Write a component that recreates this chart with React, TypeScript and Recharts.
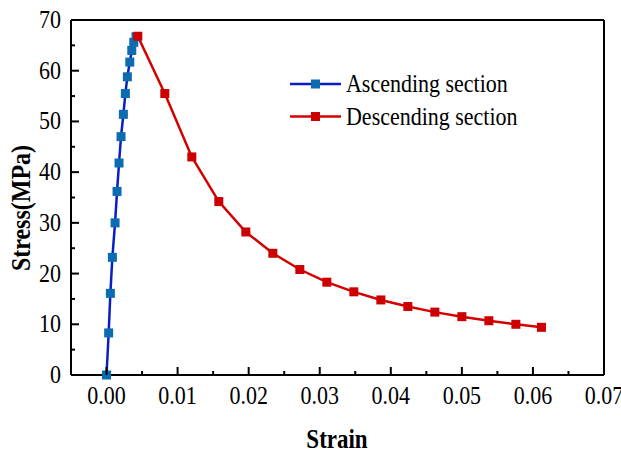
import React from 'react';
import {
  LineChart,
  Line,
  XAxis,
  YAxis,
  ReferenceLine,
  Label,
  Customized,
} from 'recharts';

const ascStrain = [0, 0.0003, 0.00054, 0.00082, 0.0012, 0.00148, 0.00176, 0.00204, 0.00237, 0.00265, 0.00293, 0.00327, 0.00355, 0.00383, 0.00415];
const ascStress = [0, 8.3, 16.1, 23.2, 30.0, 36.2, 41.8, 47.0, 51.4, 55.5, 58.8, 61.7, 64.0, 65.6, 66.7];

const descStrain = [0.0044, 0.0082, 0.012, 0.0158, 0.0196, 0.0234, 0.0272, 0.031, 0.0348, 0.0386, 0.0424, 0.0462, 0.05, 0.0538, 0.0576, 0.0612];
const descStress = [66.8, 55.5, 43.0, 34.2, 28.2, 24.0, 20.8, 18.3, 16.4, 14.8, 13.5, 12.4, 11.5, 10.7, 10.0, 9.4];

const xTicks = [0, 0.005, 0.01, 0.015, 0.02, 0.025, 0.03, 0.035, 0.04, 0.045, 0.05, 0.055, 0.06, 0.065, 0.07];
const xTickLabels = ['0.00', '', '0.01', '', '0.02', '', '0.03', '', '0.04', '', '0.05', '', '0.06', '', '0.07'];
const yTicks = [0, 5, 10, 15, 20, 25, 30, 35, 40, 45, 50, 55, 60, 65, 70];
const yTickLabels = ['0', '', '10', '', '20', '', '30', '', '40', '', '50', '', '60', '', '70'];

const ascData = ascStrain.map((s, i) => ({ strain: s, stress: ascStress[i] }));
const descData = descStrain.map((s, i) => ({ strain: s, stress: descStress[i] }));

const FONT = '"Liberation Serif", "Times New Roman", serif';
const ASC_LINE = '#0a1ec8';
const ASC_MARK = '#0b6cb0';
const DESC_LINE = '#d40000';
const DESC_MARK = '#cc0000';
// the reference text looks a bit taller than wide
const STRETCH = 1.15;

const TallText = ({ x, y, anchor = 'start', size, bold = false, rotate = 0, children }: any) => (
  <text
    transform={`translate(${x} ${y}) rotate(${rotate}) scale(1 ${STRETCH})`}
    textAnchor={anchor}
    fontFamily={FONT}
    fontSize={size}
    fontWeight={bold ? 'bold' : 'normal'}
    fill="#000"
  >
    {children}
  </text>
);

const squareDot = (fill: string) => (props: any) => {
  const { cx, cy, index } = props;
  if (cx == null || cy == null) return <g key={index} />;
  return <rect key={index} x={cx - 4.5} y={cy - 4.5} width={9} height={9} fill={fill} />;
};

const XTick = (props: any) => {
  const { x, y, index } = props;
  const major = index % 2 === 0;
  return (
    <g>
      <line x1={x} y1={y} x2={x} y2={y - (major ? 8 : 4)} stroke="#000" strokeWidth={2} />
      {major && (
        <TallText x={x} y={y + 29} anchor="middle" size={22}>
          {xTickLabels[index]}
        </TallText>
      )}
    </g>
  );
};

const YTick = (props: any) => {
  const { x, y, index } = props;
  const major = index % 2 === 0;
  return (
    <g>
      <line x1={x} y1={y} x2={x + (major ? 8 : 4)} y2={y} stroke="#000" strokeWidth={2} />
      {major && (
        <TallText x={x - 10} y={y + 8} anchor="end" size={22}>
          {yTickLabels[index]}
        </TallText>
      )}
    </g>
  );
};

const LegendBox = () => (
  <g>
    <line x1={290} y1={84} x2={341} y2={84} stroke={ASC_LINE} strokeWidth={2.5} />
    <rect x={311} y={79.5} width={9} height={9} fill={ASC_MARK} />
    <TallText x={346} y={92} size={22}>Ascending section</TallText>
    <line x1={290} y1={116.5} x2={341} y2={116.5} stroke={DESC_LINE} strokeWidth={2.5} />
    <rect x={311} y={112} width={9} height={9} fill={DESC_MARK} />
    <TallText x={346} y={124.5} size={22}>Descending section</TallText>
  </g>
);

export default function App() {
  return (
    <div style={{ position: 'absolute', left: 0, top: 0, background: '#fff' }}>
      <LineChart width={621} height={454} margin={{ top: 20, right: 17, left: 0, bottom: 0 }}>
        <XAxis
          dataKey="strain"
          type="number"
          domain={[-0.005, 0.07]}
          ticks={xTicks}
          interval={0}
          height={79}
          tickSize={0}
          tickMargin={0}
          tickLine={false}
          tick={<XTick />}
          axisLine={{ stroke: '#000', strokeWidth: 2 }}
        >
          <Label
            content={() => (
              <TallText x={337} y={448} anchor="middle" size={23} bold>
                Strain
              </TallText>
            )}
          />
        </XAxis>
        <YAxis
          dataKey="stress"
          type="number"
          domain={[0, 70]}
          ticks={yTicks}
          interval={0}
          width={71}
          tickSize={0}
          tickMargin={0}
          tickLine={false}
          tick={<YTick />}
          axisLine={{ stroke: '#000', strokeWidth: 2 }}
        >
          <Label
            content={() => (
              <TallText x={30} y={208} anchor="middle" size={24} bold rotate={-90}>
                Stress(MPa)
              </TallText>
            )}
          />
        </YAxis>
        <ReferenceLine y={70} stroke="#000" strokeWidth={2} />
        <ReferenceLine x={0.07} stroke="#000" strokeWidth={2} />
        <Line
          data={ascData}
          dataKey="stress"
          stroke={ASC_LINE}
          strokeWidth={2.5}
          dot={squareDot(ASC_MARK)}
          activeDot={false}
          isAnimationActive={false}
        />
        <Line
          data={descData}
          dataKey="stress"
          stroke={DESC_LINE}
          strokeWidth={2.5}
          dot={squareDot(DESC_MARK)}
          activeDot={false}
          isAnimationActive={false}
        />
        <Customized component={LegendBox} />
      </LineChart>
    </div>
  );
}
